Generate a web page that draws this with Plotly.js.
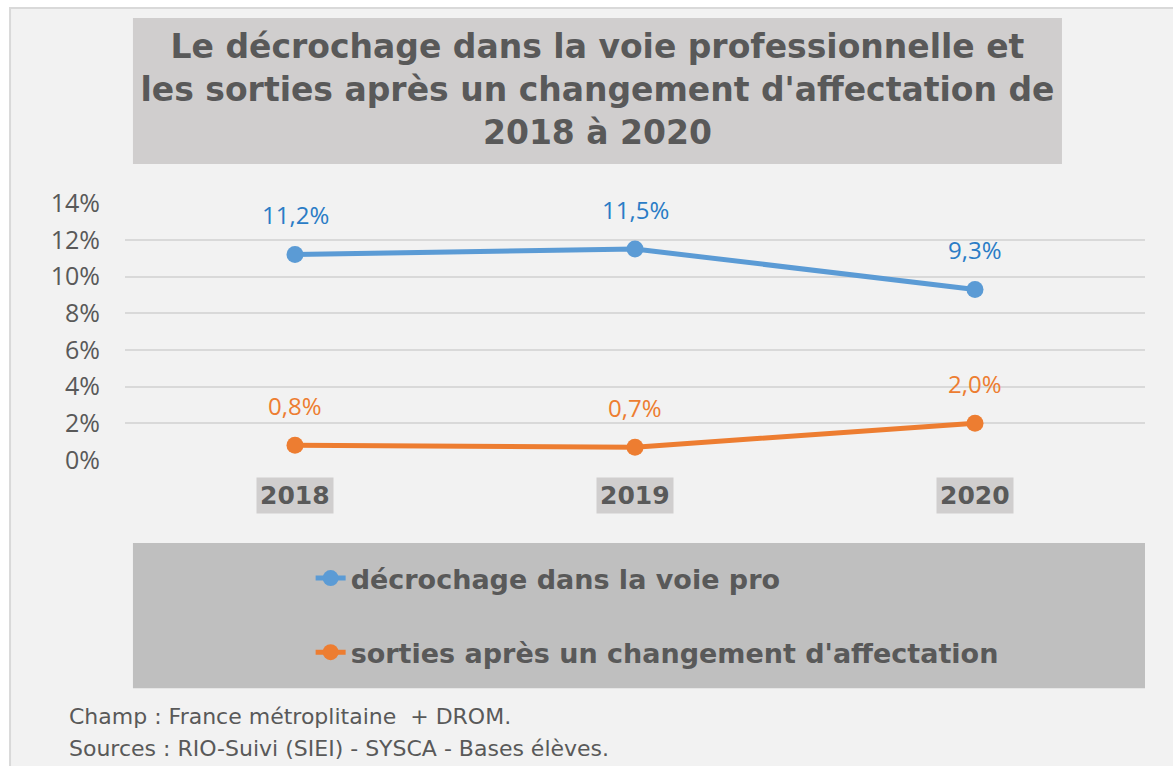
<!DOCTYPE html>
<html>
<head>
<meta charset="utf-8">
<script src="https://cdn.plot.ly/plotly-3.0.1.min.js"></script>
<style>
  html, body { margin: 0; padding: 0; background: #ffffff; }
  #chart { width: 1173px; height: 766px; }
</style>
</head>
<body>
<div id="chart"></div>
<script>
// data
var years = ['2018', '2019', '2020'];
var decrochage = [0.112, 0.115, 0.093];
var sorties = [0.008, 0.007, 0.020];
var seriesNames = ['décrochage dans la voie pro', "sorties après un changement d'affectation"];
var titleLines = ['Le décrochage dans la voie professionnelle et',
                  "les sorties après un changement d'affectation de",
                  '2018 à 2020'];
var notes = ['Champ : France métroplitaine  + DROM.',
             'Sources : RIO-Suivi (SIEI) - SYSCA - Bases élèves.'];

var blue = '#5b9bd5', blueText = '#2a7cc6';
var orange = '#ed7d31';
var grey = '#595959';

function pct(v) {
    return (v * 100).toFixed(1).replace('.', ',') + '%';
}

var trace1 = {
    x: years, y: decrochage,
    name: seriesNames[0],
    type: 'scatter', mode: 'lines+markers',
    line: { color: blue, width: 5 },
    marker: { color: blue, size: 17 },
    legendgroup: 'a',
    hoverinfo: 'skip'
};
var trace2 = {
    x: years, y: sorties,
    name: seriesNames[1],
    type: 'scatter', mode: 'lines+markers',
    line: { color: orange, width: 5 },
    marker: { color: orange, size: 17 },
    legendgroup: 'b',
    hoverinfo: 'skip'
};

var annotations = [];
// data labels above points (category axis -> use the category index)
years.forEach(function(yr, i) {
    annotations.push({
        x: i, y: decrochage[i], xref: 'x', yref: 'y',
        text: pct(decrochage[i]), showarrow: false, yshift: 40,
        font: { family: 'Open Sans', size: 24, color: blueText }
    });
    annotations.push({
        x: i, y: sorties[i], xref: 'x', yref: 'y',
        text: pct(sorties[i]), showarrow: false, yshift: 40,
        font: { family: 'Open Sans', size: 24, color: orange }
    });
    // category labels with grey box
    annotations.push({
        x: i, y: -0.212, xref: 'x', yref: 'paper',
        text: '<b>' + yr + '</b>', showarrow: false,
        bgcolor: '#d0cece', borderpad: 3,
        font: { family: 'DejaVu Sans', size: 25, color: grey }
    });
});
// footnotes
notes.forEach(function(n, i) {
    annotations.push({
        x: -0.057, y: -0.998 - i * 0.125, xref: 'paper', yref: 'paper',
        xanchor: 'left', yanchor: 'middle',
        text: n, showarrow: false,
        font: { family: 'DejaVu Sans', size: 22, color: grey }
    });
});

var layout = {
    width: 1173, height: 766,
    margin: { l: 125, r: 28, t: 203, b: 306 },
    paper_bgcolor: '#ffffff',
    plot_bgcolor: 'rgba(0,0,0,0)',
    title: {
        text: '<b>' + titleLines.join('<br>') + '</b>',
        x: 0.4632, xref: 'paper', xanchor: 'center',
        y: 0.924, yref: 'container', yanchor: 'middle',
        font: { family: 'DejaVu Sans', size: 33, color: grey }
    },
    xaxis: {
        type: 'category',
        range: [-0.5, 2.5],
        showticklabels: false,
        showgrid: false, zeroline: false, showline: false
    },
    yaxis: {
        range: [0, 0.1401], dtick: 0.02, tickformat: '.0%',
        gridcolor: '#d9d9d9', gridwidth: 2,
        zeroline: false, showline: false,
        ticks: '', ticklabelstandoff: 24,
        tickfont: { family: 'Open Sans', size: 25, color: grey }
    },
    showlegend: true,
    legend: {
        x: 0.182, xanchor: 'left',
        y: -0.605, yanchor: 'middle',
        bgcolor: 'rgba(0,0,0,0)',
        tracegroupgap: 36,
        font: { family: 'DejaVu Sans', size: 27, color: grey, weight: 'bold' }
    },
    shapes: [
        // chart frame
        { type: 'rect', xref: 'paper', yref: 'paper', layer: 'below',
          x0: -0.1127, x1: 1.04, y0: -1.23, y1: 1.7588,
          fillcolor: '#f2f2f2', line: { color: '#d9d9d9', width: 2 } },
        // title box
        { type: 'rect', xref: 'paper', yref: 'paper', layer: 'below',
          x0: 0.0078, x1: 0.9186, y0: 1.1518, y1: 1.7198,
          fillcolor: '#d0cece', line: { width: 0 } },
        // legend box
        { type: 'rect', xref: 'paper', yref: 'paper', layer: 'below',
          x0: 0.0078, x1: 1.0, y0: -0.888, y1: -0.323,
          fillcolor: '#bfbfbf', line: { width: 0 } }
    ],
    annotations: annotations
};

Plotly.newPlot('chart', [trace1, trace2], layout, { displayModeBar: false, staticPlot: true });
</script>
</body>
</html>
